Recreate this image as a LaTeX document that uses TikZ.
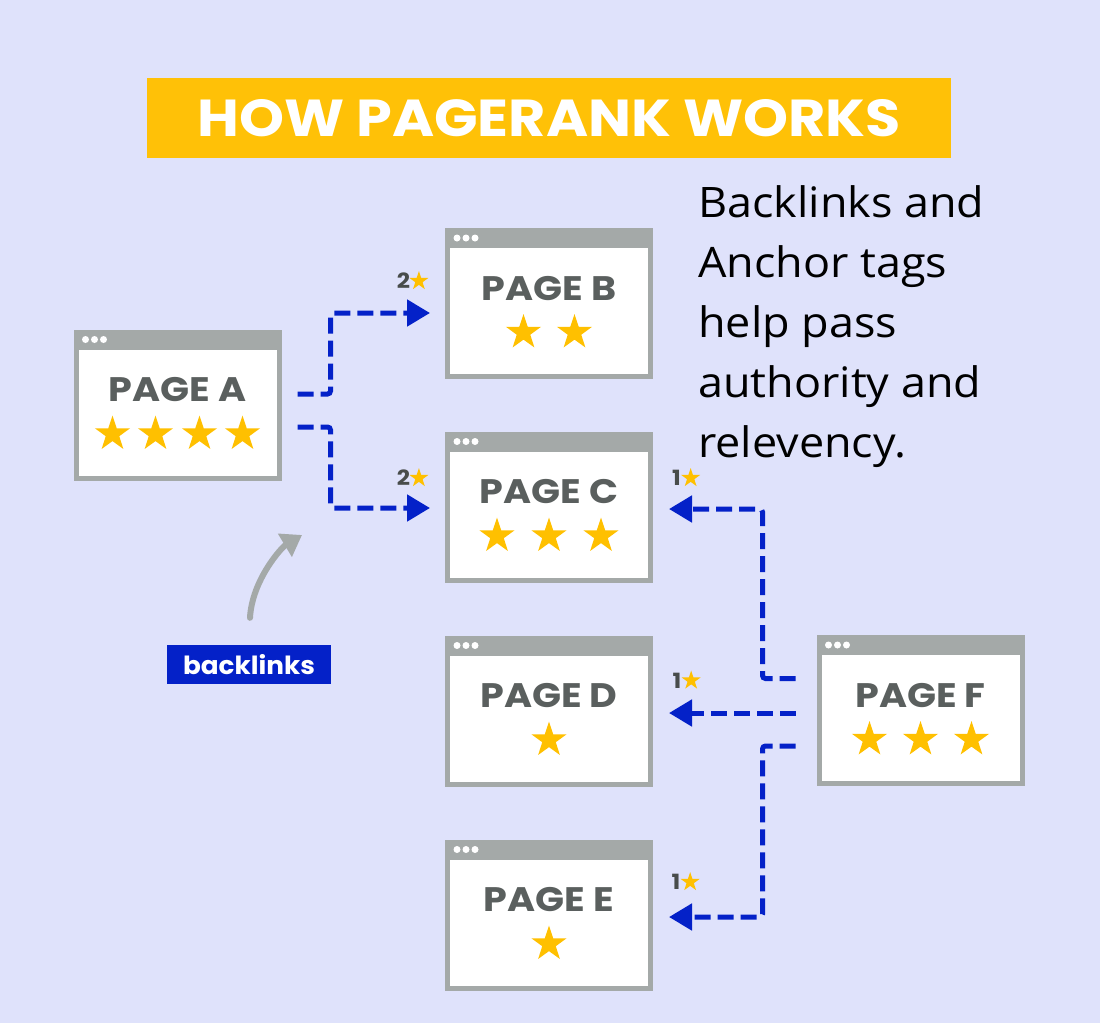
\documentclass[tikz,border=0pt]{standalone}
\usepackage{fontspec}
\setmainfont{Poppins}
\newfontfamily\fuenteTexto{Open Sans}
\usetikzlibrary{positioning,arrows.meta,shapes.geometric}
\definecolor{colFondo}{HTML}{DFE2FB}
\definecolor{colTitulo}{HTML}{FFC107}
\definecolor{colVentana}{HTML}{A4A9A8}
\definecolor{colRotulo}{HTML}{5A5F5E}
\definecolor{colEstrella}{HTML}{FFC000}
\definecolor{colEnlace}{HTML}{0421C8}

\begin{document}
\begin{tikzpicture}[x=1pt, y=-1pt,
    pagewin/.style={rectangle, fill=white, draw=colVentana, line width=5pt, minimum width=203pt, minimum height=146pt, inner sep=0pt},
    rotulo/.style={text=colRotulo, inner sep=0pt, font=\fontsize{34}{34}\selectfont\bfseries\addfontfeature{FakeStretch=1.12}},
    estrella/.style={star, star points=5, star point ratio=2.6, fill=colEstrella, minimum size=37pt, inner sep=0pt},
    estrellita/.style={estrella, minimum size=20pt},
    cifra/.style={text=colRotulo!80!black, inner sep=0pt, font=\fontsize{21}{21}\selectfont\bfseries\addfontfeature{FakeStretch=1.1}},
    enlace/.style={colEnlace, line width=5pt, dash pattern=on 16pt off 7pt, rounded corners=3pt, -{Triangle[length=23pt,width=26pt]}},
    flechaGris/.style={colVentana, line width=6pt, line cap=round, -{Triangle[length=20pt,width=26pt]}},
    titulo/.style={fill=colTitulo, text=white, minimum width=804pt, minimum height=80pt, font=\fontsize{52}{52}\selectfont\bfseries\addfontfeature{FakeStretch=1.1}},
    etiqueta/.style={fill=colEnlace, text=white, minimum width=164pt, minimum height=39pt, inner sep=0pt, font=\fontsize{25}{25}\selectfont\bfseries\addfontfeature{FakeStretch=1.05}},
    texto/.style={anchor=north west, align=left, inner sep=0pt, font=\fuenteTexto\fontsize{42}{60}\selectfont\addfontfeature{FakeStretch=1.07}}]
    % Fondo
    \fill[colFondo] (0,0) rectangle (1100,1023);
    \useasboundingbox (0,0) rectangle (1100,1023);

    % Titulo
    \node[titulo] (tit) at (549,118) {HOW PAGERANK WORKS};

    % Ventanas (nombre/x/y/letra/estrellas)
    \foreach \nom/\cx/\cy/\letra/\pos in {pa/177.5/405/A/{-65,-22,22,65}, pb/549/303.5/B/{-25.5,25.5}, pc/549/507/C/{-52,0,52}, pd/549/711/D/{0}, pe/549/915/E/{0}, pf/920.5/710.5/F/{-51,0,51}}{
        \node[pagewin] (\nom) at (\cx,\cy) {};
        \fill[colVentana] (\nom.north west) rectangle ([yshift=-20pt]\nom.north east);
        \foreach \d in {12,21,30}
            \fill[white] ([xshift=\d pt,yshift=-10pt]\nom.north west) circle (3.5pt);
        \node[rotulo] at ([yshift=15pt]\nom.center) {PAGE \letra};
        \foreach \s in \pos
            \node[estrella] at ([xshift=\s pt,yshift=-29pt]\nom.center) {};
    }

    % Enlaces desde A
    \draw[enlace] ([xshift=16pt,yshift=11pt]pa.east) -- ++(33,0) |- ([xshift=-15pt,yshift=-9.5pt]pb.west);
    \draw[enlace] ([xshift=16pt,yshift=-22pt]pa.east) -- ++(33,0) |- ([xshift=-15pt,yshift=-1pt]pc.west);

    % Enlaces desde F
    \draw[enlace] ([xshift=-21pt,yshift=32pt]pf.west) -- ++(-33,0) |- ([xshift=16pt,yshift=-2pt]pc.east);
    \draw[enlace] ([xshift=-21pt,yshift=-2.5pt]pf.west) -- ([xshift=16pt,yshift=-2pt]pd.east);
    \draw[enlace] ([xshift=-21pt,yshift=-35.5pt]pf.west) -- ++(-33,0) |- ([xshift=16pt,yshift=-2pt]pe.east);

    % Estrellas transmitidas
    \node[cifra] (nB) at (403.5,281) {2};
    \node[estrellita, right=3pt of nB] {};
    \node[cifra] (nC) at (403.5,478) {2};
    \node[estrellita, right=3pt of nC] {};
    \node[cifra] (nCF) at (676.5,478) {1};
    \node[estrellita, right=4pt of nCF] {};
    \node[cifra] (nD) at (677,680.5) {1};
    \node[estrellita, right=4pt of nD] {};
    \node[cifra] (nE) at (676,882) {1};
    \node[estrellita, right=4pt of nE] {};

    % Etiqueta backlinks
    \node[etiqueta] (bl) at (249,664.5) {backlinks};
    \coordinate (puntaCurva) at (302,535);
    \draw[flechaGris] ([xshift=1pt,yshift=27pt]bl.north) .. controls +(2,-38) and +(-20,12) .. (puntaCurva);

    % Texto lateral
    \node[texto] (txt) at (698,185) {Backlinks and\\Anchor tags\\help pass\\authority and\\relevency.};
\end{tikzpicture}
\end{document}
